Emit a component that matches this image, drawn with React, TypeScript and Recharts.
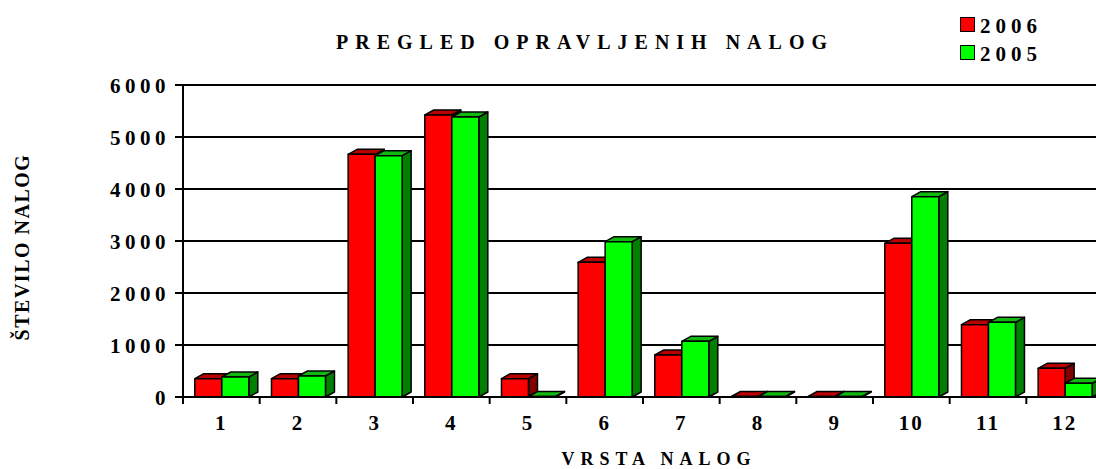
import React from 'react';
import { BarChart, Bar, XAxis, YAxis, CartesianGrid } from 'recharts';

const categories = ['1', '2', '3', '4', '5', '6', '7', '8', '9', '10', '11', '12'];
const values2006 = [352, 352, 4667, 5423, 352, 2590, 808, 10, 10, 2955, 1391, 551];
const values2005 = [385, 404, 4641, 5385, 10, 2987, 1071, 10, 10, 3853, 1436, 263];
const yTicks = [0, 1000, 2000, 3000, 4000, 5000, 6000];

const data = categories.map((c, i) => ({ name: c, y2006: values2006[i], y2005: values2005[i] }));

const CHART_W = 1110;
const CHART_H = 469;
const Y_AXIS_W = 183;
const RIGHT = 7;
const BAND = (CHART_W - Y_AXIS_W - RIGHT) / categories.length;
const DX = 9;
const DY = 5;
const FONT = '"Liberation Serif", "Times New Roman", serif';

const make3D = (front: string, top: string, side: string) => (props: any) => {
  const { x, y, width, height } = props;
  if (x == null || y == null) return <g />;
  const h = Math.max(0, height);
  return (
    <g stroke="#000" strokeWidth={1.5} strokeLinejoin="round">
      <polygon
        points={`${x + width},${y} ${x + width + DX},${y - DY} ${x + width + DX},${y + h - DY} ${x + width},${y + h}`}
        fill={side}
      />
      <polygon
        points={`${x},${y} ${x + DX},${y - DY} ${x + width + DX},${y - DY} ${x + width},${y}`}
        fill={top}
      />
      {h > 0 && <rect x={x} y={y} width={width} height={h} fill={front} />}
    </g>
  );
};

const RedBar = make3D('#ff0000', '#b80000', '#800000');
const GreenBar = make3D('#00ff00', '#10b810', '#008000');

const YTick = (props: any) => {
  const { y, payload } = props;
  return (
    <text
      x={166 + 4}
      y={y}
      dy="0.36em"
      textAnchor="end"
      fontFamily={FONT}
      fontWeight="bold"
      fontSize={21}
      letterSpacing={4.5}
      fill="#000"
    >
      {payload.value}
    </text>
  );
};

const XTick = (props: any) => {
  const { x, y, payload } = props;
  const bx = x - BAND / 2;
  return (
    <g>
      <line x1={bx} x2={bx} y1={y - 8} y2={y - 1} stroke="#000" strokeWidth={2} />
      <text
        x={x}
        y={y + 25}
        textAnchor="middle"
        fontFamily={FONT}
        fontWeight="bold"
        fontSize={21}
        letterSpacing={2}
        fill="#000"
      >
        {payload.value}
      </text>
    </g>
  );
};

const textBase: React.CSSProperties = {
  position: 'absolute',
  fontFamily: FONT,
  fontWeight: 'bold',
  color: '#000',
  whiteSpace: 'nowrap',
  lineHeight: 1,
};

const App = () => {
  return (
    <div
      style={{
        position: 'absolute',
        left: 0,
        top: 0,
        width: 1096,
        height: 469,
        overflow: 'hidden',
        background: '#fff',
      }}
    >
      <BarChart
        width={CHART_W}
        height={CHART_H}
        data={data}
        margin={{ top: 85, right: RIGHT, bottom: 42, left: 0 }}
        barCategoryGap="15.4%"
        barGap={0}
      >
        <CartesianGrid vertical={false} stroke="#000" strokeWidth={2} />
        <XAxis
          dataKey="name"
          height={30}
          axisLine={{ stroke: '#000', strokeWidth: 2 }}
          tickLine={false}
          tick={<XTick />}
          interval={0}
        />
        <YAxis
          width={Y_AXIS_W}
          domain={[0, 6000]}
          ticks={yTicks}
          interval={0}
          axisLine={{ stroke: '#000', strokeWidth: 2 }}
          tickLine={{ stroke: '#000', strokeWidth: 2 }}
          tickSize={8}
          tick={<YTick />}
        />
        <Bar dataKey="y2006" fill="#ff0000" shape={RedBar} isAnimationActive={false} />
        <Bar dataKey="y2005" fill="#00ff00" shape={GreenBar} isAnimationActive={false} />
      </BarChart>

      {/* Title */}
      <div
        style={{
          ...textBase,
          left: 585,
          top: 42,
          transform: 'translate(-50%, -50%)',
          fontSize: 20,
          letterSpacing: 7,
        }}
      >
        PREGLED OPRAVLJENIH NALOG
      </div>

      {/* Legend */}
      {[
        { label: '2006', color: '#ff0000', top: 17 },
        { label: '2005', color: '#00ff00', top: 45 },
      ].map((item) => (
        <div key={item.label}>
          <div
            style={{
              position: 'absolute',
              left: 960,
              top: item.top,
              width: 13,
              height: 13,
              background: item.color,
              border: '1.5px solid #000',
            }}
          />
          <div
            style={{
              ...textBase,
              left: 980,
              top: item.top + 9,
              transform: 'translateY(-50%)',
              fontSize: 21,
              letterSpacing: 5,
            }}
          >
            {item.label}
          </div>
        </div>
      ))}

      {/* Y axis label */}
      <div
        style={{
          ...textBase,
          left: 22,
          top: 247,
          transform: 'translate(-50%, -50%) rotate(-90deg)',
          fontSize: 20,
          letterSpacing: 1.5,
        }}
      >
        ŠTEVILO NALOG
      </div>

      {/* X axis label */}
      <div
        style={{
          ...textBase,
          left: 659,
          top: 459,
          transform: 'translate(-50%, -50%)',
          fontSize: 18,
          letterSpacing: 6,
        }}
      >
        VRSTA NALOG
      </div>
    </div>
  );
};

export default App;
